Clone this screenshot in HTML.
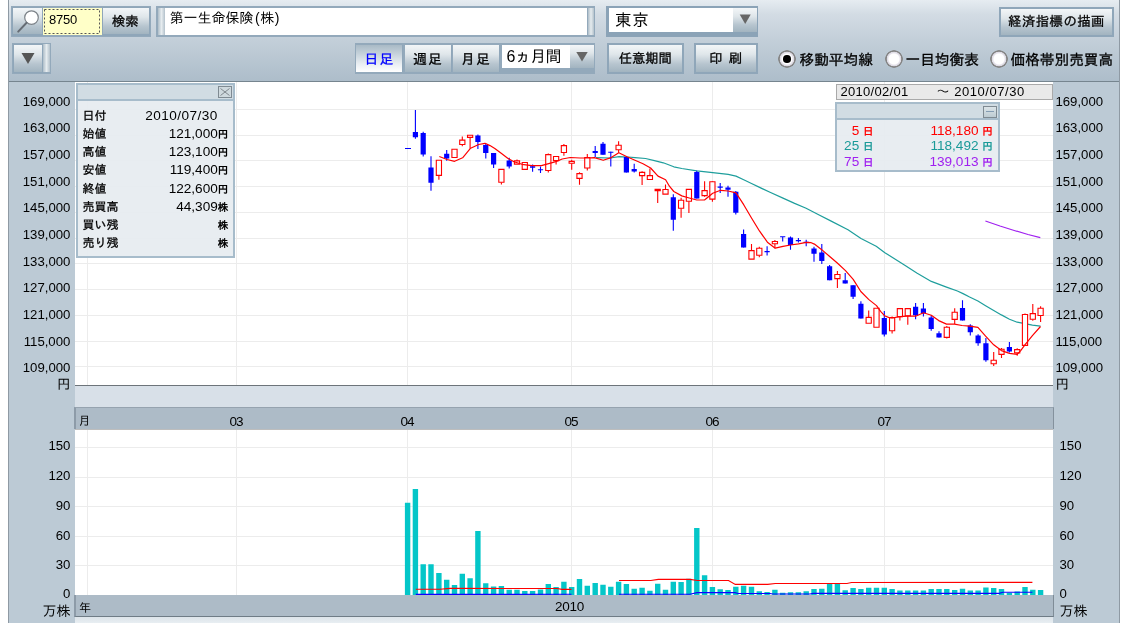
<!DOCTYPE html>
<html lang="ja"><head><meta charset="utf-8"><title>チャート</title>
<style>
html,body{margin:0;padding:0}
body{width:1126px;height:623px;overflow:hidden;position:relative;background:#bccad5;font-family:"Liberation Sans","IPAGothic",sans-serif;color:#000}
#app{position:absolute;left:0;top:0;width:1126px;height:623px;overflow:hidden}
.abs,#app div,#app span.a{position:absolute;box-sizing:border-box}
#tb{left:0;top:0;width:1126px;height:82px;background:linear-gradient(#e6ecf1 0px,#d3dce4 14px,#c3cfd9 40px,#adbdca 81px);border-bottom:1px solid #76858f}
#ls{left:0;top:0;width:9px;height:623px;background:#fff;border-right:1px solid #8f9aa4}
#rs{left:1119px;top:0;width:7px;height:623px;background:#fff;border-left:1px solid #8f9aa4}
.btn{border:2px solid #8fa6b9;border-bottom-width:2px;background:linear-gradient(#f3f6f8,#dfe6ea 35%,#b7c5cf 70%,#a2b4c0);font-weight:normal;-webkit-text-stroke:0.3px currentColor;font-size:13.3px;text-align:center;white-space:nowrap}
.btn.on{background:linear-gradient(#a9bac6,#c3d0d9 30%,#e9eef2 70%,#fff);color:#00f}
.pb{font-size:13.8px;letter-spacing:1.2px;text-indent:1.2px}
.frame{background:#93a9bb}
.strip{background:linear-gradient(90deg,#aebdc8,#e6ecef 50%,#b3c1cb)}
.wf{background:#fff;white-space:nowrap;font-family:"Liberation Sans","IPAGothic",sans-serif}
.rl{font-weight:normal;-webkit-text-stroke:0.32px #000;font-size:14.67px;white-space:nowrap;line-height:18px}
.radio{width:18px;height:18px;border-radius:50%;background:radial-gradient(circle at 50% 50%,#fff 0,#fff 5px,#e4e1ea 6.2px,#dcdae2 7px,#858585 7.6px,#858585 8.6px,rgba(133,133,133,0) 9.2px)}
.radio.on::after{content:"";position:absolute;left:5.2px;top:5.2px;width:7.6px;height:7.6px;border-radius:50%;background:#000}
.chart{position:absolute;left:0;top:0}
.al,.ar{font-size:13.2px;line-height:16px;height:16px;white-space:nowrap;letter-spacing:0}
.al{left:8px;width:62.4px;text-align:right}
.ar{left:1055.4px;width:60px;text-align:left}
.ar.v{left:1059.5px}
.j{font-size:13.5px;letter-spacing:0}
.ml{top:413.8px;width:40px;text-align:center;font-size:13.5px;line-height:16px;letter-spacing:-1px;text-indent:-1px}
.band1{left:75px;width:978px;background:#d8e0e8}
.band2{left:74px;width:980px;background:#adbbc7;border-left:2px solid #8d9ba8;border-right:1px solid #84919d;border-top:1px solid #96a3af}
.panel{background:rgba(230,236,240,.93);border:2px solid #a7bccb}
.ptitle{left:0;top:0;width:100%;background:#d1dce3;border-bottom:2px solid #a7bccb}
.pl{left:4.5px;font-weight:normal;-webkit-text-stroke:0.3px #000;font-size:12px;line-height:16px;white-space:nowrap}
.pv{right:5px;font-size:13.6px;line-height:16px;white-space:nowrap;text-align:right;letter-spacing:0}
.pv small{font-size:10.5px;letter-spacing:0;font-weight:bold}
</style></head><body><div id="app">
<div id="tb"></div>

<!-- row 1 -->
<div class="frame" style="left:11px;top:6px;width:140px;height:31px"></div>
<div class="btn" style="left:12px;top:7px;width:31px;height:29px;border-width:1px 1px 2px 1px"><svg width="29" height="26" viewBox="0 0 29 26" style="position:absolute;left:0;top:0"><circle cx="18.5" cy="9.6" r="6.8" fill="#fff" stroke="#7c8288" stroke-width="1.2"/><path d="M13.6 14.8L5.2 23.6" stroke="#666c74" stroke-width="2" stroke-linecap="round"/></svg></div>
<div class="wf" style="left:43px;top:8px;width:58.5px;height:27px;background:#ffffc8;font-size:13px;line-height:23.4px;padding-left:6px;letter-spacing:-0.2px"><svg width="58" height="27" style="position:absolute;left:0;top:0"><rect x="1.5" y="1.5" width="55" height="24" fill="none" stroke="#555" stroke-width="1" stroke-dasharray="2 2"/></svg>8750</div>
<div class="btn" style="left:101.5px;top:7px;width:48.5px;height:29px;line-height:28.5px;border-width:1px 1px 2px 1px;text-indent:-1px">検索</div>

<div class="frame" style="left:156px;top:6px;width:439px;height:31px"></div>
<div class="strip" style="left:157.5px;top:8px;width:7px;height:27px"></div>
<div class="wf" style="left:165px;top:8px;width:421.5px;height:27px;font-size:14px;line-height:21px;padding-left:4.5px">第一生命保険<span style="letter-spacing:0.6px;margin-left:1.5px">(株)</span></div>
<div class="strip" style="left:587.5px;top:8px;width:6.5px;height:27px"></div>

<div class="frame" style="left:606px;top:6px;width:152px;height:31px;background:#8ba3b7"></div>
<div class="wf" style="left:608.5px;top:8px;width:124px;height:23.5px;font-size:16.5px;line-height:24.5px;padding-left:6.5px;letter-spacing:0.8px">東京</div>
<div class="btn" style="left:733px;top:7.5px;width:24px;height:24px;border:0"><svg width="25" height="23" style="position:absolute;left:0;top:0"><path d="M6.7 6.5h11l-5.5 9.6z" fill="#666"/></svg></div>

<div class="btn" style="left:999px;top:6.5px;width:115px;height:30.5px;line-height:26px;letter-spacing:0.55px">経済指標の描画</div>

<!-- row 2 -->
<div class="frame" style="left:11.5px;top:42.5px;width:39px;height:31.5px"></div>
<div class="btn" style="left:12.5px;top:44px;width:30px;height:29px;border-width:1px 1px 1.5px 1px"><svg width="28" height="26" style="position:absolute;left:0;top:0"><path d="M7.5 8h13l-6.5 11z" fill="#555"/></svg></div>
<div class="strip" style="left:43px;top:44px;width:6.5px;height:28px"></div>

<div class="frame" style="left:354.5px;top:43px;width:240px;height:30.5px"></div>
<div class="btn on pb" style="left:356px;top:44.5px;width:47px;height:27.5px;line-height:29.5px;border-width:0 1px 0 0">日足</div>
<div class="btn pb" style="left:404.5px;top:44.5px;width:47px;height:27.5px;line-height:29.5px;border-width:0 1px 0 0">週足</div>
<div class="btn pb" style="left:452.5px;top:44.5px;width:47px;height:27.5px;line-height:29.5px;border-width:0 1px 0 0">月足</div>
<div class="wf" style="left:501.5px;top:45px;width:68px;height:23px;font-size:16px;line-height:23px;padding-left:5px;letter-spacing:-0.6px">6ヵ月間</div>
<div class="btn" style="left:569.5px;top:45px;width:24px;height:23px;border:0"><svg width="24" height="23" style="position:absolute;left:0;top:0"><path d="M6.3 7h11.4l-5.7 9.5z" fill="#666"/></svg></div>

<div class="btn" style="left:606.5px;top:43px;width:77.5px;height:30.5px;line-height:27.5px">任意期間</div>
<div class="btn" style="left:693.5px;top:43px;width:64.5px;height:30.5px;line-height:27.5px;word-spacing:2.5px">印 刷</div>

<div class="radio on" style="left:777.8px;top:50px"></div>
<div class="rl" style="left:799.5px;top:50.5px">移動平均線</div>
<div class="radio" style="left:885px;top:50.1px"></div>
<div class="rl" style="left:905.5px;top:50.5px">一目均衡表</div>
<div class="radio" style="left:990px;top:50.1px"></div>
<div class="rl" style="left:1010.5px;top:50.5px">価格帯別売買高</div>

<!-- chart -->
<svg class="chart" width="1126" height="623" viewBox="0 0 1126 623">
<rect x="75" y="82" width="978" height="303" fill="#fff"/>
<rect x="75" y="429" width="978" height="166" fill="#fff"/>
<path d="M75 109.5H1053M75 135.5H1053M75 160.5H1053M75 186.5H1053M75 212.5H1053M75 238.5H1053M75 263.5H1053M75 289.5H1053M75 315.5H1053M75 341.5H1053M75 366.5H1053M75 565.5H1053M75 536.5H1053M75 506.5H1053M75 477.5H1053M75 447.5H1053M87.5 82V385M87.5 429V595M236.5 82V385M236.5 429V595M407.5 82V385M407.5 429V595M571.5 82V385M571.5 429V595M712.5 82V385M712.5 429V595M884.5 82V385M884.5 429V595" stroke="#ececec" stroke-width="1" fill="none"/>
<path d="M404.9 595V502.7H410.3V595ZM412.7 595V489H418.1V595ZM420.5 595V564.2H425.9V595ZM428.3 595V564.2H433.7V595ZM436.2 595V573H441.6V595ZM444 595V579.7H449.4V595ZM451.8 595V585.1H457.2V595ZM459.6 595V573.8H465V595ZM467.4 595V578.2H472.8V595ZM475.2 595V531H480.6V595ZM483.1 595V583.2H488.4V595ZM490.9 595V586.5H496.3V595ZM498.7 595V585.9H504.1V595ZM506.5 595V589.8H511.9V595ZM514.3 595V589.8H519.7V595ZM522.1 595V591.1H527.5V595ZM529.9 595V591H535.3V595ZM537.8 595V589.5H543.2V595ZM545.6 595V584H551V595ZM553.4 595V587H558.8V595ZM561.2 595V581.7H566.6V595ZM569 595V587H574.4V595ZM576.8 595V579H582.2V595ZM584.6 595V585.8H590V595ZM592.5 595V582.9H597.9V595ZM600.3 595V584.7H605.7V595ZM608.1 595V586.7H613.5V595ZM615.9 595V581.7H621.3V595ZM623.7 595V584H629.1V595ZM631.5 595V588.8H636.9V595ZM639.4 595V587.7H644.8V595ZM647.2 595V590.8H652.6V595ZM655 595V583.7H660.4V595ZM662.8 595V589.7H668.2V595ZM670.6 595V581.7H676V595ZM678.4 595V582H683.8V595ZM686.2 595V578.7H691.6V595ZM694.1 595V528.1H699.5V595ZM701.9 595V575.2H707.3V595ZM709.7 595V587H715.1V595ZM717.5 595V589.3H722.9V595ZM725.3 595V590H730.7V595ZM733.1 595V586.7H738.5V595ZM740.9 595V585.8H746.3V595ZM748.8 595V586.7H754.2V595ZM756.6 595V591.2H762V595ZM764.4 595V592H769.8V595ZM772.2 595V589.7H777.6V595ZM780 595V592.7H785.4V595ZM787.8 595V592.3H793.2V595ZM795.6 595V592.3H801.1V595ZM803.5 595V591.2H808.9V595ZM811.3 595V589H816.7V595ZM819.1 595V588.8H824.5V595ZM826.9 595V582.9H832.3V595ZM834.7 595V584H840.1V595ZM842.5 595V590.3H847.9V595ZM850.4 595V588H855.8V595ZM858.2 595V588.9H863.6V595ZM866 595V587.8H871.4V595ZM873.8 595V587.8H879.2V595ZM881.6 595V587.8H887V595ZM889.4 595V589.1H894.8V595ZM897.2 595V590.6H902.6V595ZM905.1 595V590.6H910.5V595ZM912.9 595V590.6H918.3V595ZM920.7 595V590.6H926.1V595ZM928.5 595V589.1H933.9V595ZM936.3 595V589.1H941.7V595ZM944.1 595V589.1H949.5V595ZM952 595V589.9H957.4V595ZM959.8 595V588.7H965.2V595ZM967.6 595V590.6H973V595ZM975.4 595V590.6H980.8V595ZM983.2 595V587.6H988.6V595ZM991 595V588H996.4V595ZM998.8 595V589.1H1004.2V595ZM1006.7 595V592.8H1012.1V595ZM1014.5 595V591.5H1019.9V595ZM1022.3 595V586.9H1027.7V595ZM1030.1 595V589.7H1035.5V595ZM1037.9 595V590H1043.3V595Z" fill="#04c6c8"/>
<polyline points="415.8,589.2 440,589.2 450,588.4 557,588.5 562,589.4 571.5,589.4" fill="none" stroke="#f00" stroke-width="1.1"/>
<polyline points="619,580.5 650.8,580.5 658.3,579.4 690,579.4 697.4,580.5 728.5,580.5 735.3,584.4 767.7,584.4 775.3,583.5 847,583.5 851.5,582.5 1032.4,582.4" fill="none" stroke="#f00" stroke-width="1.1"/>
<polyline points="415.8,594.4 571.5,594.3" fill="none" stroke="#10f" stroke-width="1.1"/>
<polyline points="619,594.2 690,594.2 697,592.6 735,592.6 738,593.5 770,593.5 773,594 810,594 813,593.4 999.2,593.4 1003,592.3 1032.4,592.3" fill="none" stroke="#10f" stroke-width="1.1"/>
<polyline points="596,157.6 610.3,158 619,156.7 628,157 635,157.6 645.6,158.5 654.4,160.6 663.3,162.8 673.8,166.8 681.8,168.5 696.8,170.8 712.7,172.6 728.2,174.4 736,176.1 743.7,179.7 751.5,183.5 759.6,187.4 770,192.3 783,198.1 794.6,203.4 806.1,208.2 817.7,214.2 830.7,220.9 848,229.8 861,238.5 876.2,246.2 884.9,252.7 904.4,265 916.8,272.9 931.3,281.4 946.5,287.1 957.4,291 963,293.6 969.6,297 977.9,301 985.6,305.7 993.7,310.5 1001.4,314.9 1009.5,319.2 1017.2,322.2 1024.9,323.6 1032.4,325.1 1040.5,326.1" fill="none" stroke="#1e9e9c" stroke-width="1.2" stroke-linejoin="round"/>
<polyline points="985.4,221 1000,226 1015,230.7 1028,234.5 1040.3,237.7" fill="none" stroke="#a020f0" stroke-width="1.2"/>
<path d="M405 148.5H411M415.4 110V138.8M423.2 131.8V156.5M431 156.2V190.7M446.7 150V160.7M477.9 134.5V149M485.8 143.7V158.6M493.6 153V168.1M509.2 157.7V168.6M532.6 164.6V171.8M540.5 166.5V172.9M537.9 169.7H543.1M595.2 146V157M603 142V154.8M610.8 151.4V166.4M608.2 152.3H613.4M626.4 157V172.6M634.2 163.8V172.6M673.3 194.3V230.7M696.8 170.7V198.6M720.2 183V192.9M717.6 187.1H722.8M728 185.8V196.8M735.8 191.1V214.4M743.6 229.4V247.6M767.1 246.3V255.6M764.5 251.6H769.7M782.7 236.2V241.5M780.1 236.8H785.3M790.5 236.5V249.8M798.4 238V242.4M795.8 240.6H801M806.2 239.7V246.3M803.6 242.4H808.8M814 246.8V261.8M821.8 244.1V264.1M829.6 265V280.3M845.2 272.9V283.5M853.1 285.3V298.9M860.9 301.2V318.6M884.3 310.9V336.5M915.6 303V319.2M923.4 303V316.6M931.2 315.3V330.7M939 331.2V337.4M962.5 300.2V320.6M970.3 324.2V335.5M978.1 334.2V345.7M985.9 338V361.7M1009.4 341.9V352.5" stroke="#00f" stroke-width="1.1" fill="none"/>
<path d="M412.8 132H418V137.2H412.8ZM420.6 132.9H425.8V154.6H420.6ZM428.4 167.4H433.6V182.7H428.4ZM444.1 153.8H449.3V158.6H444.1ZM475.3 135.6H480.5V142H475.3ZM483.1 145H488.4V153H483.1ZM491 153H496.2V164.6H491ZM506.6 160.6H511.8V166.5H506.6ZM530 166.2H535.2V167.8H530ZM592.6 150.9H597.8V153H592.6ZM600.4 143.8H605.6V154.8H600.4ZM623.8 157H629V172.6H623.8ZM631.6 169H636.8V171.6H631.6ZM670.7 197.2H675.9V219.8H670.7ZM694.2 172H699.4V198.6H694.2ZM725.4 187.6H730.6V189.7H725.4ZM733.2 191.8H738.4V212.7H733.2ZM741 233.9H746.2V247.6H741ZM787.9 237.6H793.1V245H787.9ZM811.4 248.5H816.6V253.8H811.4ZM819.2 252.6H824.4V260.9H819.2ZM827 266.2H832.2V280.3H827ZM842.6 280.3H847.8V283.5H842.6ZM850.5 285.3H855.7V296.7H850.5ZM858.3 303.7H863.5V318.6H858.3ZM881.7 318H886.9V334.4H881.7ZM913 306.8H918.2V315.3H913ZM920.8 308.6H926V313.6H920.8ZM928.6 317.6H933.8V328.9H928.6ZM936.4 333.3H941.6V337.4H936.4ZM959.9 308H965.1V320.6H959.9ZM967.7 325.5H972.9V332.3H967.7ZM975.5 335.5H980.7V343.2H975.5ZM983.3 343.2H988.5V360.2H983.3ZM1006.8 347.1H1012V351.5H1006.8Z" fill="#00f"/>
<path d="M438.9 175.4V179.8M462.3 136.6V140.1M462.3 144.5V146.2M470.1 137.4V148.6M501.4 182.2V184.6M517 159.4V160.9M548.3 153.5V154.6M548.3 170.5V172.6M556.1 160.6V164.6M563.9 144V145.6M563.9 152.5V155.7M571.7 159.8V161.4M571.7 163.3V169.7M579.5 172.2V173.6M579.5 178.4V184.7M587.3 154V157.5M587.3 168V170.5M618.6 141.2V145.2M618.6 149.7V152.7M642.1 171.2V172.4M642.1 175.6V185M649.9 168.6V175.6M657.7 190.6V203M665.5 184.4V189.5M681.1 197.7V200.3M681.1 208.3V217.8M688.9 201.2V213M704.6 181.2V190.6M704.6 195.6V196.8M712.4 180.9V181.8M712.4 199.1V201.7M751.5 244.1V250.6M759.3 246.7V248.2M759.3 255.2V257.3M774.9 240V241.5M774.9 243.8V248.2M837.4 271V274.5M837.4 278.6V287.9M868.7 310.4V317.4M892.1 316.5V317.6M892.1 330.7V333.5M899.9 316.6V320.6M907.8 315.8V324.7M946.8 325.9V327.3M946.8 337.4V338.6M954.7 308.3V312.3M954.7 319.4V324.1M993.7 351.9V360.2M993.7 363.7V366M1001.5 348V349.2M1001.5 354.4V357.9M1017.2 348.2V349.6M1017.2 352.9V355.8M1025 313.6V314.5M1032.8 303.9V313.6M1032.8 319.3V320.7M1040.6 306.2V308.2M1040.6 315.5V322" stroke="#f00" stroke-width="1.1" fill="none"/>
<path d="M436.3 160.2H441.5V175.4H436.3ZM451.9 149.3H457.1V157.5H451.9ZM459.7 140.1H464.9V144.5H459.7ZM467.5 135.3H472.7V137.4H467.5ZM498.8 169.4H504V182.2H498.8ZM514.4 160.9H519.6V164.1H514.4ZM522.2 162.5H527.4V169.4H522.2ZM545.7 154.6H550.9V170.5H545.7ZM553.5 156.5H558.7V160.6H553.5ZM561.3 145.6H566.5V152.5H561.3ZM569.1 161.4H574.3V163.3H569.1ZM576.9 173.6H582.1V178.4H576.9ZM584.7 157.5H589.9V168H584.7ZM616 145.2H621.2V149.7H616ZM639.5 172.4H644.7V175.6H639.5ZM647.3 175.6H652.5V179.5H647.3ZM655.1 189.4H660.3V190.6H655.1ZM662.9 189.5H668.1V194.1H662.9ZM678.5 200.3H683.7V208.3H678.5ZM686.3 189.4H691.5V201.2H686.3ZM702 190.6H707.2V195.6H702ZM709.8 181.8H715V199.1H709.8ZM748.9 250.6H754.1V259.1H748.9ZM756.7 248.2H761.9V255.2H756.7ZM772.3 241.5H777.5V243.8H772.3ZM834.8 274.5H840V278.6H834.8ZM866.1 317.4H871.3V323.3H866.1ZM873.9 308.3H879.1V327.3H873.9ZM889.5 317.6H894.7V330.7H889.5ZM897.3 308.6H902.5V316.6H897.3ZM905.2 308.6H910.4V315.8H905.2ZM944.2 327.3H949.4V337.4H944.2ZM952.1 312.3H957.3V319.4H952.1ZM991.1 360.2H996.3V363.7H991.1ZM998.9 349.2H1004.1V354.4H998.9ZM1014.6 349.6H1019.8V352.9H1014.6ZM1022.4 314.5H1027.6V345.4H1022.4ZM1030.2 313.6H1035.4V319.3H1030.2ZM1038 308.2H1043.2V315.5H1038Z" stroke="#f00" stroke-width="1.1" fill="#fff"/>
<polyline points="439.3,156.5 447,159.5 454.6,161.3 462.6,157.8 470.6,148.2 478.7,144.5 485,143.3 490,145.6 494.8,148.5 501.2,153.3 507.7,158.2 514,161.7 522,164.3 531.7,165.7 541.4,165.7 547.8,163.8 555.8,161.7 562.2,159 570.3,157.5 580,158 587.4,158 594.4,157.6 603.2,160.3 611.2,157.6 618.8,152.7 627,156.7 635,160.3 643,163.8 650.6,168 658,176.1 665.6,179.7 669.4,186.2 673.8,191.5 681.8,195.9 689.2,198 696.8,200 704.5,200 709.1,196.3 712.7,193.3 720.6,190.3 728.2,191 736,192.9 743.7,204.7 751.5,218 759.6,231.2 767.4,242.2 775.2,248.2 783,246.4 790.5,245 798.5,243.8 806.4,242.4 811.2,242.7 814.4,244.1 821.4,249.4 829.7,256.5 837.3,263 845.5,270.6 853.2,279.4 860.8,291.5 868.6,299.4 876.5,305.6 880.6,311.3 884.5,315.7 888.5,317.4 892.1,318 899.8,316.6 907.4,316.2 915.6,316.2 923.5,312.7 931.3,315.3 938.7,320.6 946.5,324.1 954.4,324.1 962,325.5 969.6,326.1 977.9,327.4 985.6,336.1 993.7,344.8 1001.4,350.6 1009.5,353.4 1017.2,354.4 1020.7,350.6 1024.9,344.8 1032.4,335.7 1040.5,326.5" fill="none" stroke="#f00" stroke-width="1.2" stroke-linejoin="round"/>
</svg>
<div style="left:75px;top:385px;width:978px;height:1px;background:#6d747a"></div>
<div class="band1" style="top:386px;height:21px"></div>
<div class="band2" style="top:407px;height:22px"></div>
<div style="left:75px;top:429px;width:978px;height:1px;background:#bdbdbd"></div>
<div class="band2" style="top:595px;height:22px;border-top:0;border-bottom:1px solid #6f7c86;border-right-color:#7f8c97"></div>
<div class="band1" style="top:617px;height:6px;background:linear-gradient(#dde4ea,#e8eef2)"></div>
<div class="ml" style="left:78.5px;top:412.5px;width:auto;font-size:12px;letter-spacing:0;text-indent:0">月</div>
<div class="ml" style="left:79px;top:599.5px;width:auto;font-size:12px;letter-spacing:0;text-indent:0">年</div>
<div class="ml" style="left:549.5px;top:598.8px;letter-spacing:-0.3px;text-indent:0">2010</div>
<div class="al" style="top:93.5px">169,000</div>
<div class="ar" style="top:93.5px">169,000</div>
<div class="al" style="top:120.2px">163,000</div>
<div class="ar" style="top:120.2px">163,000</div>
<div class="al" style="top:146.8px">157,000</div>
<div class="ar" style="top:146.8px">157,000</div>
<div class="al" style="top:173.5px">151,000</div>
<div class="ar" style="top:173.5px">151,000</div>
<div class="al" style="top:200.2px">145,000</div>
<div class="ar" style="top:200.2px">145,000</div>
<div class="al" style="top:226.9px">139,000</div>
<div class="ar" style="top:226.9px">139,000</div>
<div class="al" style="top:253.5px">133,000</div>
<div class="ar" style="top:253.5px">133,000</div>
<div class="al" style="top:280.2px">127,000</div>
<div class="ar" style="top:280.2px">127,000</div>
<div class="al" style="top:306.9px">121,000</div>
<div class="ar" style="top:306.9px">121,000</div>
<div class="al" style="top:333.5px">115,000</div>
<div class="ar" style="top:333.5px">115,000</div>
<div class="al" style="top:360.2px">109,000</div>
<div class="ar" style="top:360.2px">109,000</div>
<div class="al j" style="top:377px">円</div>
<div class="ar j" style="top:377px">円</div>
<div class="al" style="top:438px">150</div>
<div class="ar v" style="top:438px">150</div>
<div class="al" style="top:468px">120</div>
<div class="ar v" style="top:468px">120</div>
<div class="al" style="top:498px">90</div>
<div class="ar v" style="top:498px">90</div>
<div class="al" style="top:527.5px">60</div>
<div class="ar v" style="top:527.5px">60</div>
<div class="al" style="top:557px">30</div>
<div class="ar v" style="top:557px">30</div>
<div class="al" style="top:586px">0</div>
<div class="ar v" style="top:586px">0</div>
<div class="al j" style="top:602.5px;font-size:14px">万株</div>
<div class="ar v j" style="top:602.5px;font-size:14px">万株</div>
<div class="ml" style="left:216.5px">03</div>
<div class="ml" style="left:387.5px">04</div>
<div class="ml" style="left:551.5px">05</div>
<div class="ml" style="left:692.5px">06</div>
<div class="ml" style="left:864.5px">07</div>

<!-- info panel -->
<div class="panel" style="left:76px;top:83px;width:159.3px;height:175px">
<div class="ptitle" style="height:16px"></div>
<svg width="14" height="12" style="position:absolute;left:139.7px;top:1px"><rect x=".5" y=".5" width="13" height="11" fill="#cfd9de" stroke="#7f8a92"/><path d="M2.5 2.5l9 7M11.5 2.5l-9 7" stroke="#80888e" stroke-width="1"/></svg>
<div class="pl" style="top:23px">日付</div><div class="pv" style="top:23px;right:15.5px;letter-spacing:0.45px">2010/07/30</div>
<div class="pl" style="top:41.2px">始値</div><div class="pv" style="top:41.2px">121,000<small>円</small></div>
<div class="pl" style="top:59.3px">高値</div><div class="pv" style="top:59.3px">123,100<small>円</small></div>
<div class="pl" style="top:77.4px">安値</div><div class="pv" style="top:77.4px">119,400<small>円</small></div>
<div class="pl" style="top:95.5px">終値</div><div class="pv" style="top:95.5px">122,600<small>円</small></div>
<div class="pl" style="top:113.6px">売買高</div><div class="pv" style="top:113.6px">44,309<small>株</small></div>
<div class="pl" style="top:131.7px">買い残</div><div class="pv" style="top:131.7px"><small>株</small></div>
<div class="pl" style="top:149.8px">売り残</div><div class="pv" style="top:149.8px"><small>株</small></div>
</div>

<!-- date range -->
<div style="left:835.5px;top:83.5px;width:217px;height:16.5px;background:#e9e9e9;border:1px solid #a9a9a9;font-size:13px;line-height:13px;white-space:nowrap;letter-spacing:0.3px"><span class="a" style="left:4px;top:0">2010/02/01</span><span class="a" style="left:100px;top:0;letter-spacing:0.55px">～ 2010/07/30</span></div>

<!-- MA panel -->
<div class="panel" style="left:835px;top:102.3px;width:164.8px;height:70px">
<div class="ptitle" style="height:16.2px"></div>
<svg width="14" height="12" style="position:absolute;left:146px;top:1.5px"><defs><linearGradient id="mg" x1="0" y1="0" x2="0" y2="1"><stop offset="0" stop-color="#dde5e9"/><stop offset="1" stop-color="#bccad1"/></linearGradient></defs><rect x=".5" y=".5" width="13" height="11" fill="url(#mg)" stroke="#7f8a92"/><path d="M3 5.5h8" stroke="#849cb3" stroke-width="1"/></svg>
<div class="pv" style="top:18.5px;right:auto;left:0;width:36.5px;color:#f00">5 <small>日</small></div><div class="pv" style="top:18.5px;color:#f00">118,180 <small>円</small></div>
<div class="pv" style="top:34px;right:auto;left:0;width:36.5px;color:#1a9a98">25 <small>日</small></div><div class="pv" style="top:34px;color:#1a9a98">118,492 <small>円</small></div>
<div class="pv" style="top:50px;right:auto;left:0;width:36.5px;color:#a020f0">75 <small>日</small></div><div class="pv" style="top:50px;color:#a020f0">139,013 <small>円</small></div>
</div>

<div id="ls"></div><div id="rs"></div>
</div></body></html>
